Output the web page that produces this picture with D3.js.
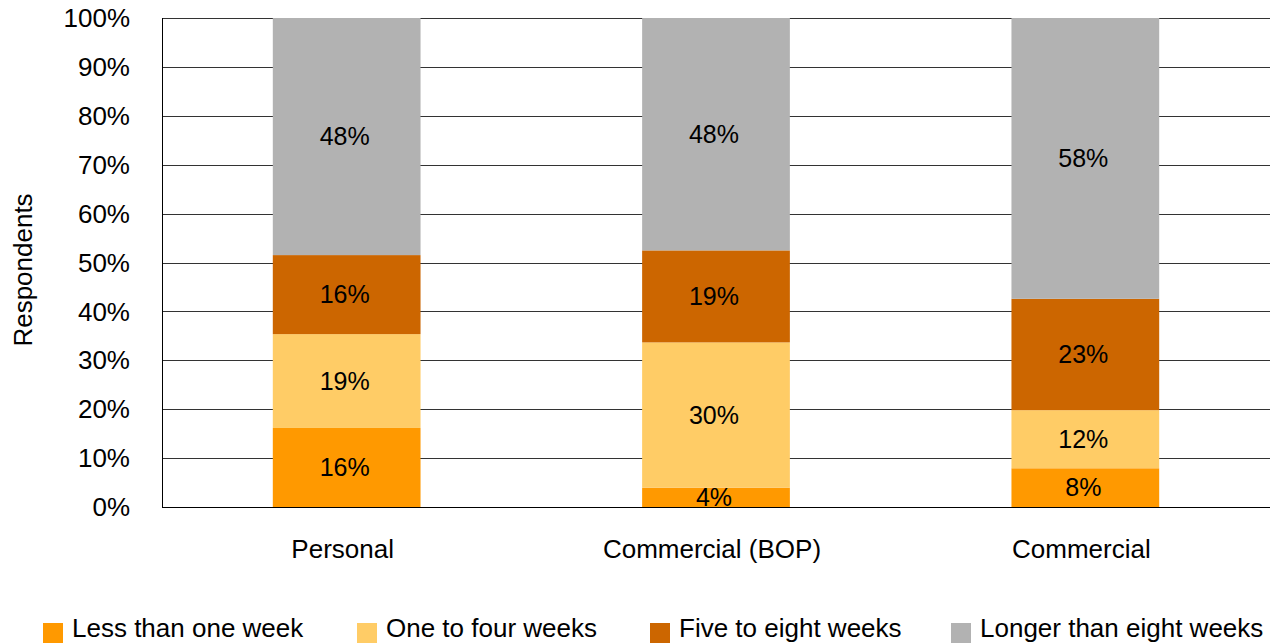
<!DOCTYPE html>
<html><head><meta charset="utf-8">
<script src="https://cdn.jsdelivr.net/npm/d3@7"></script>
<style>body{margin:0;background:#fff}svg{display:block}text{font-family:"Liberation Sans",Arial,sans-serif;fill:#000}</style>
</head><body><svg id="c" width="1272" height="644"></svg>
<script>
const categories = ["Personal", "Commercial (BOP)", "Commercial"];
const seriesNames = ["Less than one week", "One to four weeks", "Five to eight weeks", "Longer than eight weeks"];
const lessThanOneWeek = [16, 4, 8];
const oneToFourWeeks = [19, 30, 12];
const fiveToEightWeeks = [16, 19, 23];
const longerThanEightWeeks = [48, 48, 58];
const colors = ["#FF9900", "#FFCC66", "#CC6600", "#B2B2B2"];
const yTicks = [0, 0.1, 0.2, 0.3, 0.4, 0.5, 0.6, 0.7, 0.8, 0.9, 1.0];

const seriesArrays = [lessThanOneWeek, oneToFourWeeks, fiveToEightWeeks, longerThanEightWeeks];
const table = categories.map((c, i) => {
  const row = {cat: c};
  seriesNames.forEach((s, j) => row[s] = seriesArrays[j][i]);
  return row;
});

const svg = d3.select("#c");
const m = {l: 162, r: 1270, t: 18, b: 507};
const x = d3.scaleBand().domain(categories).range([m.l, m.r]).paddingInner(0.6).paddingOuter(0.3);
const y = d3.scaleLinear().domain([0, 1]).range([m.b, m.t]);
const FS = "26px";

// gridlines
svg.append("g").selectAll("line").data(yTicks).join("line")
  .attr("x1", m.l).attr("x2", m.r)
  .attr("y1", d => Math.round(y(d)) + 0.5).attr("y2", d => Math.round(y(d)) + 0.5)
  .attr("stroke", "#333").attr("stroke-width", 1);

// y tick labels
svg.append("g").selectAll("text").data(yTicks).join("text")
  .attr("x", 130).attr("y", d => y(d)).attr("dy", "0.35em")
  .attr("text-anchor", "end").style("font-size", FS)
  .text(d => d3.format(".0%")(d));

const stack = d3.stack().keys(seriesNames).offset(d3.stackOffsetExpand);
const stacked = stack(table);

const g = svg.append("g");
stacked.forEach((layer, j) => {
  g.selectAll(null).data(layer).join("rect")
    .attr("x", d => x(d.data.cat)).attr("width", x.bandwidth())
    .attr("y", d => y(d[1])).attr("height", d => y(d[0]) - y(d[1]))
    .attr("fill", colors[j]);
  g.selectAll(null).data(layer).join("text")
    .attr("x", d => x(d.data.cat) + x.bandwidth() / 2 - 2)
    .attr("y", d => (y(d[0]) + y(d[1])) / 2).attr("dy", "0.34em")
    .attr("text-anchor", "middle").style("font-size", "25px")
    .text(d => d.data[layer.key] + "%");
});

// axes lines
svg.append("line").attr("x1", m.l + 0.5).attr("x2", m.l + 0.5).attr("y1", m.t).attr("y2", m.b + 0.5).attr("stroke", "#000");
svg.append("line").attr("x1", m.l).attr("x2", m.r).attr("y1", m.b + 0.5).attr("y2", m.b + 0.5).attr("stroke", "#000");

// category labels
svg.append("g").selectAll("text").data(categories).join("text")
  .attr("x", d => x(d) + x.bandwidth() / 2 - 4).attr("y", 558)
  .attr("text-anchor", "middle").style("font-size", FS).text(d => d);

// y title
svg.append("text").attr("transform", "translate(32,270) rotate(-90)")
  .attr("text-anchor", "middle").style("font-size", FS).text("Respondents");

// legend
const legX = [43, 357, 650, 951];
const leg = svg.append("g").selectAll("g").data(seriesNames).join("g")
  .attr("transform", (d, i) => `translate(${legX[i]},623)`);
leg.append("rect").attr("width", 20).attr("height", 20).attr("fill", (d, i) => colors[i]);
leg.append("text").attr("x", 29).attr("y", 14).style("font-size", FS).text(d => d);
</script></body></html>
